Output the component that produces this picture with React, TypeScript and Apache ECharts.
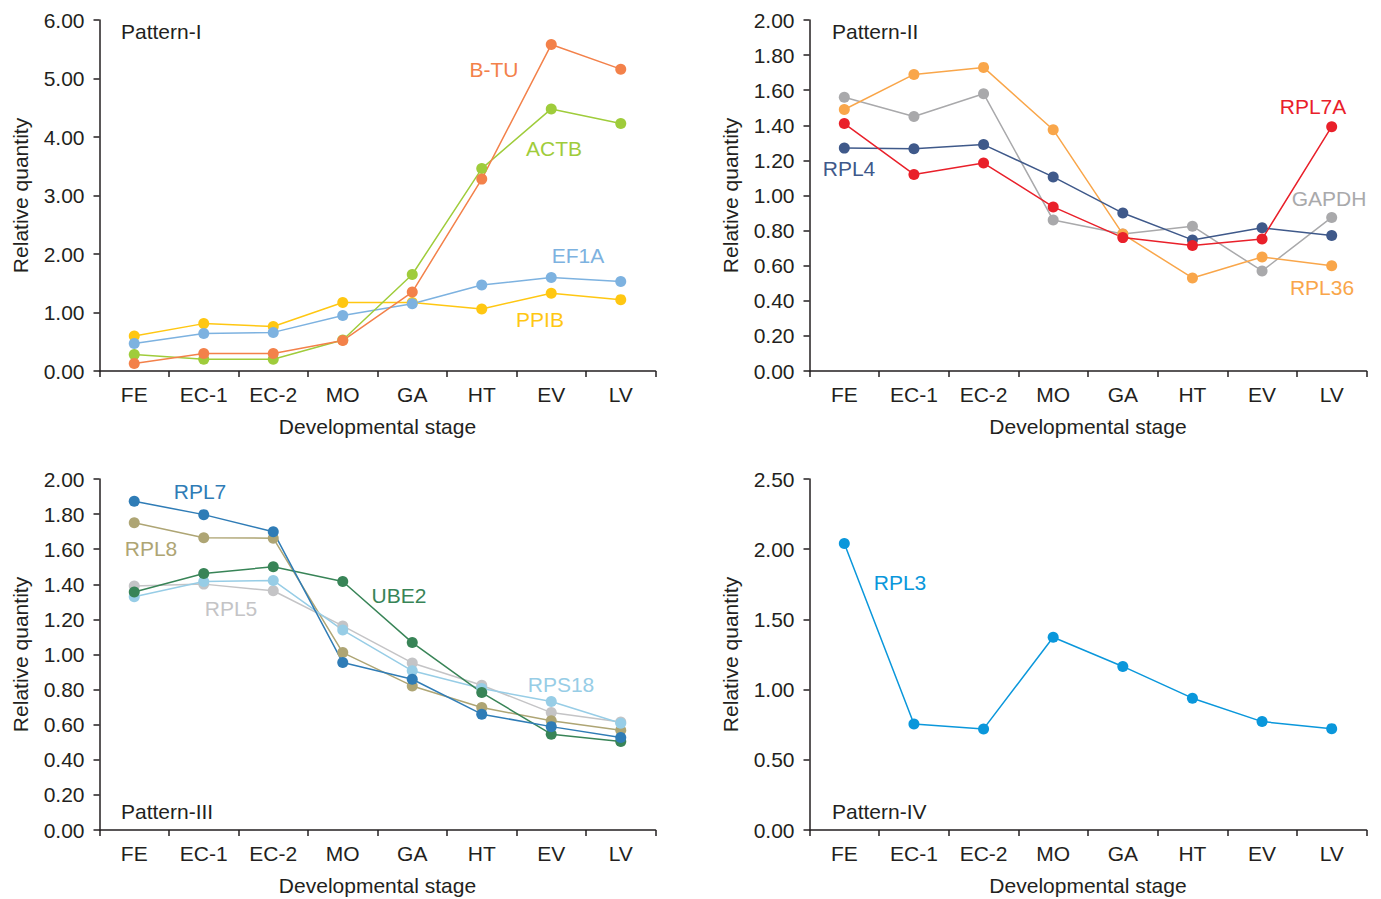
import React, { useEffect, useRef } from "react";
import * as echarts from "echarts";

const stages = ["FE", "EC-1", "EC-2", "MO", "GA", "HT", "EV", "LV"];

// Pattern-I
const bTU = [0.13, 0.3, 0.3, 0.52, 1.35, 3.28, 5.58, 5.16];
const actb = [0.28, 0.2, 0.2, 0.53, 1.65, 3.46, 4.48, 4.23];
const ef1a = [0.47, 0.64, 0.66, 0.95, 1.15, 1.47, 1.6, 1.53];
const ppib = [0.6, 0.81, 0.76, 1.17, 1.17, 1.06, 1.33, 1.22];

// Pattern-II
const gapdh = [1.56, 1.45, 1.58, 0.86, 0.78, 0.825, 0.57, 0.875];
const rpl36 = [1.49, 1.69, 1.73, 1.375, 0.78, 0.53, 0.65, 0.6];
const rpl7a = [1.41, 1.12, 1.185, 0.935, 0.76, 0.715, 0.752, 1.392];
const rpl4 = [1.27, 1.266, 1.29, 1.106, 0.9, 0.747, 0.816, 0.772];

// Pattern-III
const rpl7 = [1.873, 1.797, 1.7, 0.954, 0.859, 0.66, 0.589, 0.527];
const rpl8 = [1.751, 1.665, 1.663, 1.011, 0.821, 0.698, 0.622, 0.568];
const ube2 = [1.356, 1.462, 1.5, 1.416, 1.068, 0.783, 0.546, 0.504];
const rpl5 = [1.39, 1.401, 1.363, 1.163, 0.952, 0.825, 0.669, 0.616];
const rps18 = [1.329, 1.416, 1.422, 1.139, 0.907, 0.806, 0.732, 0.608];

// Pattern-IV
const rpl3 = [2.04, 0.755, 0.72, 1.373, 1.165, 0.939, 0.772, 0.722];

const FONT = "'Liberation Sans', Arial, Helvetica, sans-serif";
const AXIS_COLOR = "#231f20";
const TEXT_COLOR = "#231f20";
const FS = 21;

export default function App() {
  const ref = useRef<HTMLDivElement>(null);

  useEffect(() => {
    if (!ref.current) return;
    const chart = echarts.init(ref.current, undefined, { renderer: "svg" });

    const grids = [
      { left: 99.5, top: 20, width: 556, height: 351 },
      { left: 809.5, top: 20, width: 557, height: 351 },
      { left: 99.5, top: 479, width: 556, height: 351 },
      { left: 809.5, top: 479, width: 557, height: 351 },
    ];
    const yCfg = [
      { max: 6, interval: 1 },
      { max: 2, interval: 0.2 },
      { max: 2, interval: 0.2 },
      { max: 2.5, interval: 0.5 },
    ];

    const axisLine = { show: true, lineStyle: { color: AXIS_COLOR, width: 1.5 } };
    const axisTick = { show: true, length: 6, lineStyle: { color: AXIS_COLOR, width: 1.5 } };

    const xAxis = grids.map((_, i) => ({
      type: "category",
      gridIndex: i,
      data: stages,
      boundaryGap: true,
      axisLine,
      axisTick,
      axisLabel: { color: TEXT_COLOR, fontSize: FS, fontFamily: FONT, margin: 13 },
      name: "Developmental stage",
      nameLocation: "middle",
      nameGap: 45,
      nameTextStyle: { color: TEXT_COLOR, fontSize: FS, fontFamily: FONT },
      splitLine: { show: false },
    }));

    const yAxis = grids.map((_, i) => ({
      type: "value",
      gridIndex: i,
      min: 0,
      max: yCfg[i].max,
      interval: yCfg[i].interval,
      axisLine,
      axisTick,
      axisLabel: {
        color: TEXT_COLOR,
        fontSize: FS,
        fontFamily: FONT,
        margin: 15,
        formatter: (v: number) => v.toFixed(2),
      },
      name: "Relative quantity",
      nameLocation: "middle",
      nameGap: 69,
      nameRotate: 90,
      nameTextStyle: { color: TEXT_COLOR, fontSize: FS, fontFamily: FONT },
      splitLine: { show: false },
    }));

    const mk = (name: string, data: number[], color: string, idx: number) => ({
      name,
      type: "line",
      xAxisIndex: idx,
      yAxisIndex: idx,
      data,
      symbol: "circle",
      symbolSize: 11,
      showAllSymbol: true,
      lineStyle: { color, width: 1.5 },
      itemStyle: { color },
    });

    const C = {
      btu: "#f3814a",
      actb: "#9fcc3b",
      ef1a: "#7db2e0",
      ppib: "#ffc712",
      gapdh: "#a9a9ab",
      rpl36: "#f9a64a",
      rpl7a: "#e9202a",
      rpl4: "#3f598a",
      rpl7: "#2f7cb6",
      rpl8: "#aea574",
      ube2: "#388457",
      rpl5: "#c4c4c6",
      rps18: "#97cde6",
      rpl3: "#0a97db",
    };

    const series = [
      mk("PPIB", ppib, C.ppib, 0),
      mk("EF1A", ef1a, C.ef1a, 0),
      mk("ACTB", actb, C.actb, 0),
      mk("B-TU", bTU, C.btu, 0),
      mk("GAPDH", gapdh, C.gapdh, 1),
      mk("RPL36", rpl36, C.rpl36, 1),
      mk("RPL4", rpl4, C.rpl4, 1),
      mk("RPL7A", rpl7a, C.rpl7a, 1),
      mk("RPL5", rpl5, C.rpl5, 2),
      mk("RPL8", rpl8, C.rpl8, 2),
      mk("RPS18", rps18, C.rps18, 2),
      mk("UBE2", ube2, C.ube2, 2),
      mk("RPL7", rpl7, C.rpl7, 2),
      mk("RPL3", rpl3, C.rpl3, 3),
    ];

    const txt = (text: string, x: number, y: number, color: string, align = "center") => ({
      type: "text",
      x,
      y,
      style: {
        text,
        fill: color,
        fontSize: FS,
        fontFamily: FONT,
        textAlign: align,
        textVerticalAlign: "middle",
      },
      z: 100,
    });

    const graphic = [
      txt("Pattern-I", 121, 31, TEXT_COLOR, "left"),
      txt("Pattern-II", 832, 31, TEXT_COLOR, "left"),
      txt("Pattern-III", 121, 811, TEXT_COLOR, "left"),
      txt("Pattern-IV", 832, 811, TEXT_COLOR, "left"),
      txt("B-TU", 494, 69, C.btu),
      txt("ACTB", 554, 148, C.actb),
      txt("EF1A", 578, 255, C.ef1a),
      txt("PPIB", 540, 319, C.ppib),
      txt("RPL7A", 1313, 106, C.rpl7a),
      txt("RPL4", 849, 168, C.rpl4),
      txt("GAPDH", 1329, 198, C.gapdh),
      txt("RPL36", 1322, 287, C.rpl36),
      txt("RPL7", 200, 491, C.rpl7),
      txt("RPL8", 151, 548, C.rpl8),
      txt("RPL5", 231, 608, C.rpl5),
      txt("UBE2", 399, 595, C.ube2),
      txt("RPS18", 561, 684, C.rps18),
      txt("RPL3", 900, 582, C.rpl3),
    ];

    chart.setOption({
      animation: false,
      backgroundColor: "#ffffff",
      grid: grids.map((g) => ({ ...g, containLabel: false })),
      xAxis,
      yAxis,
      series,
      graphic,
    });

    return () => chart.dispose();
  }, []);

  return (
    <div
      ref={ref}
      style={{ position: "fixed", left: 0, top: 0, width: 1381, height: 899, background: "#fff" }}
    />
  );
}
